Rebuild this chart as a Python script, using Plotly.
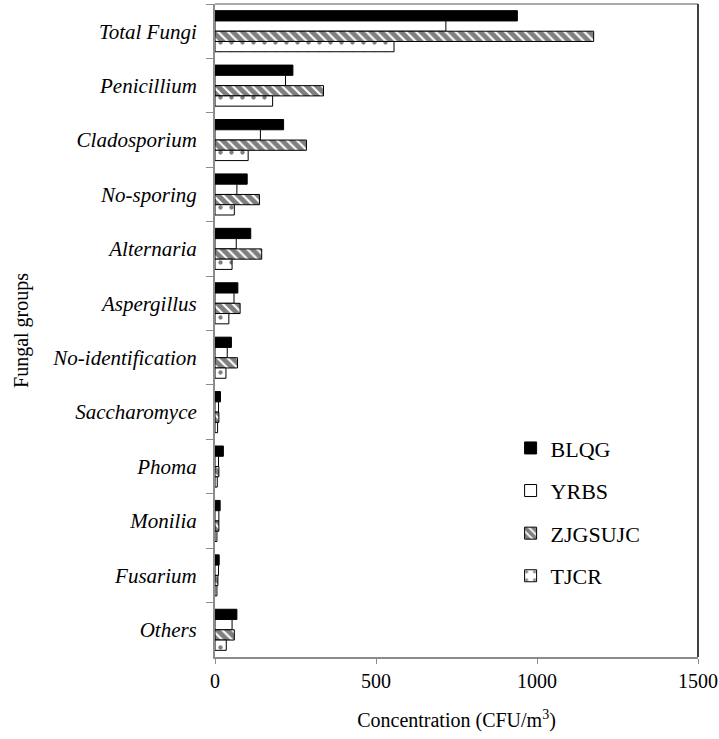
import plotly.graph_objects as go

categories = ["Total Fungi", "Penicillium", "Cladosporium", "No-sporing", "Alternaria",
              "Aspergillus", "No-identification", "Saccharomyce", "Phoma", "Monilia",
              "Fusarium", "Others"]
blqg = [939, 242, 213, 100, 111, 71, 51, 17, 26, 16, 13, 68]
yrbs = [717, 219, 141, 68, 66, 59, 38, 11, 11, 12, 11, 53]
zjgsujc = [1176, 337, 284, 138, 145, 78, 70, 12, 12, 12, 9, 60]
tjcr = [556, 179, 103, 60, 53, 43, 34, 8, 7, 6, 6, 35]
x_ticks = [0, 500, 1000, 1500]

FONT = "Liberation Serif"

fig = go.Figure()
fig.add_trace(go.Bar(y=categories, x=blqg, name="BLQG", orientation="h",
                     marker=dict(color="black", line=dict(color="black", width=1)),
                     legendgroup="a"))
fig.add_trace(go.Bar(y=categories, x=yrbs, name="YRBS", orientation="h",
                     marker=dict(color="white", line=dict(color="black", width=1)),
                     legendgroup="b"))
fig.add_trace(go.Bar(y=categories, x=zjgsujc, name="ZJGSUJC", orientation="h",
                     marker=dict(color="white", line=dict(color="black", width=1),
                                 pattern=dict(shape="\\", fgcolor="black", bgcolor="white",
                                              size=7, solidity=0.7, fillmode="overlay")),
                     legendgroup="c"))
fig.add_trace(go.Bar(y=categories, x=tjcr, name="TJCR", orientation="h",
                     marker=dict(color="white", line=dict(color="black", width=1),
                                 pattern=dict(shape=".", fgcolor="black", bgcolor="white",
                                              size=11, solidity=0.12, fillmode="overlay")),
                     legendgroup="d"))

fig.update_layout(
    width=719, height=739,
    margin=dict(l=215, r=21, t=4, b=82),
    paper_bgcolor="white", plot_bgcolor="white",
    barmode="group", bargap=0.245, bargroupgap=0,
    font=dict(family=FONT, size=20, color="black"),
    showlegend=True,
    legend=dict(x=0.612, y=0.352, xanchor="left", yanchor="top",
                font=dict(family=FONT, size=22, color="black"),
                tracegroupgap=11, bgcolor="rgba(0,0,0,0)"),
    xaxis=dict(range=[0, 1500], tickvals=x_ticks, ticktext=[str(v) for v in x_ticks],
               automargin=False,
               showgrid=False, zeroline=False, showline=True, linecolor="#8c8c8c",
               linewidth=2, ticks="outside", ticklen=5, tickcolor="#8c8c8c",
               tickfont=dict(family=FONT, size=20),
               title=dict(text="Concentration (CFU/m<sup>3</sup>)", standoff=22,
                          font=dict(family=FONT, size=20))),
    yaxis=dict(autorange="reversed", automargin=False,
               showgrid=False, zeroline=False, showline=True,
               linecolor="#8c8c8c", linewidth=2, ticks="outside", ticklen=7,
               tickcolor="#8c8c8c", tickson="boundaries", ticklabelstandoff=12,
               tickfont=dict(family=FONT, size=21, style="italic"),
               title=dict(text="Fungal groups", standoff=18,
                          font=dict(family=FONT, size=20))),
)
fig.add_shape(type="line", xref="paper", yref="paper", x0=0, x1=1, y0=1, y1=1,
              line=dict(color="#8c8c8c", width=1.5))
fig.add_shape(type="line", xref="paper", yref="paper", x0=1, x1=1, y0=0, y1=1,
              line=dict(color="#404040", width=2))

fig.write_html("out.html", config={"displayModeBar": False},
               post_script="document.body.style.margin='0';")
